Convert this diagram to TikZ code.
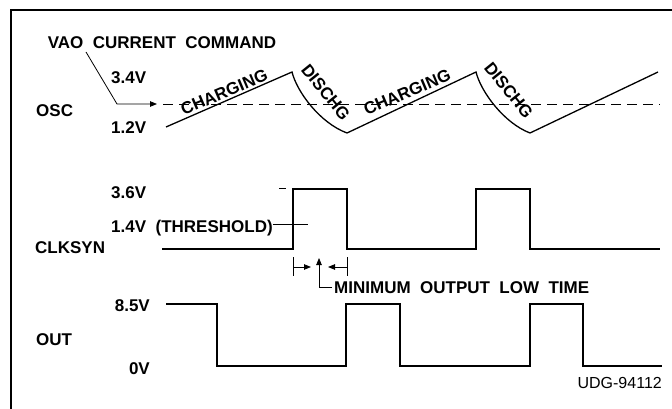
\documentclass[tikz,border=0pt]{standalone}
\usepackage{fontspec}
\setmainfont{Liberation Sans}
\usetikzlibrary{arrows.meta}
\begin{document}
\begin{tikzpicture}[x=1pt,y=-1pt,
  lbl/.style={font=\fontsize{17}{19}\selectfont\bfseries, inner sep=0pt, text height=12.2pt, text depth=0pt},
  rlbl/.style={font=\fontsize{16}{18}\selectfont, inner sep=0pt, text height=11.5pt, text depth=0pt},
  wave/.style={line width=1.3pt, line join=miter},
  thinl/.style={line width=0.8pt},
  tip/.style={-{Triangle[length=7pt,width=5.5pt]}}]
\useasboundingbox (0,0) rectangle (672,409);
\fill[white] (0,0) rectangle (672,409);
% frame
\draw[line width=2.4pt] (11,409) -- (11,10) -- (672,10);

% labels
\node[lbl] (vao) at (162,42) {VAO\ \ CURRENT\ \ COMMAND};
\node[lbl, anchor=west] (v34) at (111,77) {3.4V};
\node[lbl, anchor=west] (osc) at (36,110) {OSC};
\node[lbl, anchor=west] (v12) at (111,127) {1.2V};
\node[lbl, anchor=west] (v36) at (111,192) {3.6V};
\node[lbl, anchor=west] (thr) at (111,226) {1.4V\ \ (THRESHOLD)};
\node[lbl, anchor=west] (clk) at (35,247) {CLKSYN};
\node[lbl, anchor=west] (minl) at (334,287) {MINIMUM\ \ OUTPUT\ \ LOW\ \ TIME};
\node[lbl, anchor=east] (v85) at (150,305) {8.5V};
\node[lbl, anchor=west] (out) at (36,339) {OUT};
\node[lbl, anchor=east] (v0) at (150,368) {0V};
\node[rlbl, anchor=east] (udg) at (662,383) {UDG-94112};

\node[lbl, rotate=23] (ch1) at (224,92) {CHARGING};
\node[lbl, rotate=23] (ch2) at (407,92) {CHARGING};
\node[lbl, rotate=-51] (dc1) at (326,92) {DISCHG};
\node[lbl, rotate=-51] (dc2) at (509,90) {DISCHG};

% OSC
\coordinate (lead0) at (86,52);
\coordinate (lead1) at (117,104);
\coordinate (leadtip) at (157,104);
\draw[thinl, tip] (lead0) -- (lead1) -- (leadtip);
\draw[thinl, dash pattern=on 10pt off 6pt] (163,104) -- (660,104);
\draw[wave] (166,127) -- (292,72) .. controls (297,92) and (320,123) .. (347,133)
  -- (476,72) .. controls (481,92) and (504,123) .. (530,133) -- (658,72);

% CLKSYN
\draw[wave] (162,249) -- (293,249) -- (293,189) -- (347,189) -- (347,249)
  -- (476,249) -- (476,189) -- (530,189) -- (530,249) -- (660,249);
\draw[thinl] (279,188) -- (286,188);
\coordinate (thrY) at (0,224);
\coordinate (thrEnd) at (308,224);
\draw[thinl] (thr.east |- thrY) -- (thrEnd);

% minimum output low time
\draw[thinl] (293,257) -- (293,276);
\draw[thinl] (347,257) -- (347,276);
\draw[thinl, tip] (293,267) -- (311,267);
\draw[thinl, tip] (347,267) -- (328,267);
\draw[thinl, tip] (minl.west) ++(-2pt,0) -- (319,287) -- (319,258);

% OUT
\draw[wave] (166,304) -- (217,304) -- (217,366) -- (346,366) -- (346,304) -- (400,304)
  -- (400,366) -- (530,366) -- (530,304) -- (583,304) -- (583,366) -- (662,366);
\end{tikzpicture}
\end{document}
